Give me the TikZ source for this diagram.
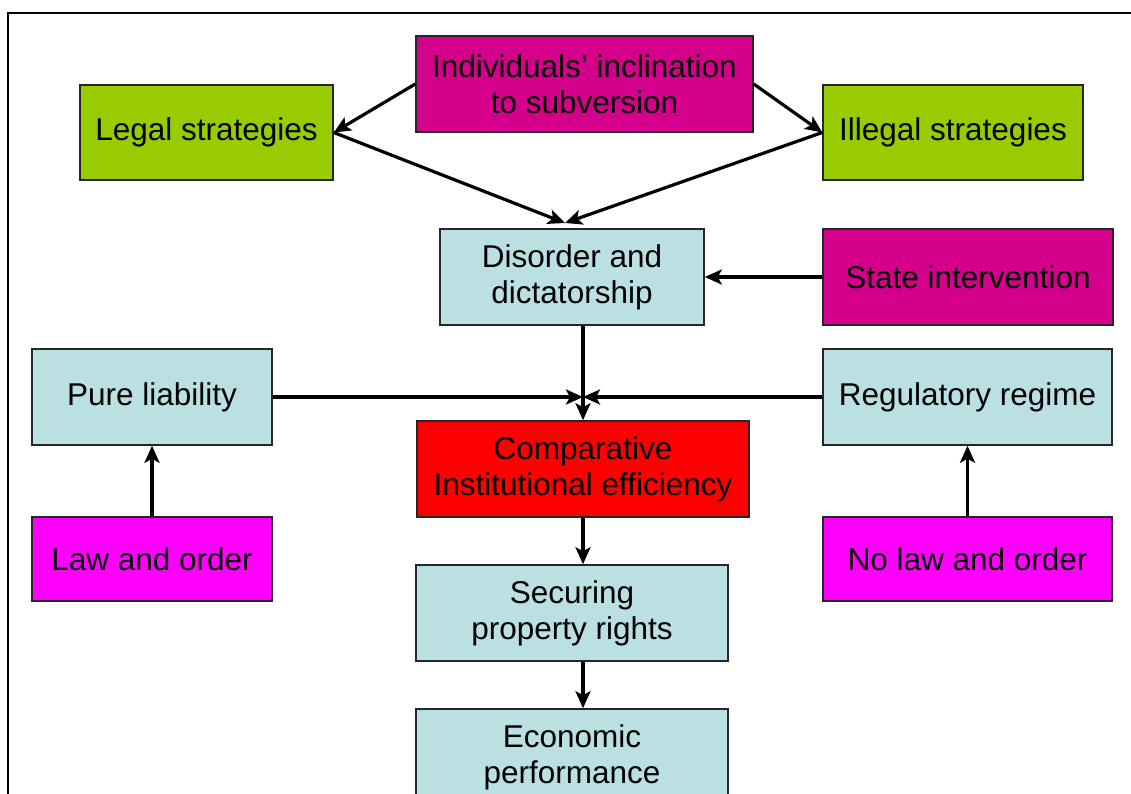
\documentclass[tikz,border=0pt]{standalone}
\usepackage{fontspec}
\setmainfont{Liberation Sans}
\usepackage{tikz}
\usetikzlibrary{arrows.meta}
\definecolor{lime}{HTML}{99CC00}
\definecolor{plum}{HTML}{D4008C}
\definecolor{pale}{HTML}{BBE0E3}
\definecolor{hot}{HTML}{FF0000}
\definecolor{pink}{HTML}{FF00FF}
\tikzset{
  box/.style={draw=black!85, line width=1.5pt, inner sep=0pt, align=center,
    font=\fontsize{31.5}{36}\selectfont},
  link/.style={draw=black, line width=3.2pt, -{Stealth[length=17pt,width=15pt,inset=4pt]}},
}

\begin{document}
\begin{tikzpicture}[x=1pt,y=-1pt]
  \useasboundingbox (0,0) rectangle (1131,793);
  \draw[line width=1.5pt] (8,800) -- (8,13) -- (1140,13);
  % boxes
  \node[box,fill=plum,minimum width=337pt,minimum height=96pt] (indiv) at (584.5,84) {Individuals’ inclination\\to subversion};
  \node[box,fill=lime,minimum width=253pt,minimum height=95pt] (legal) at (206.5,132.5) {Legal strategies};
  \node[box,fill=lime,minimum width=260pt,minimum height=95pt] (illegal) at (953,132.5) {Illegal strategies};
  \node[box,fill=pale,minimum width=264pt,minimum height=96pt] (disorder) at (572,277) {Disorder and\\dictatorship};
  \node[box,fill=plum,minimum width=290pt,minimum height=96pt] (state) at (968,277) {State intervention};
  \node[box,fill=pale,minimum width=240pt,minimum height=96pt] (pure) at (152,397) {Pure liability};
  \node[box,fill=pale,minimum width=289pt,minimum height=96pt] (regul) at (967.5,397) {Regulatory regime};
  \node[box,fill=hot,minimum width=332pt,minimum height=96pt] (comp) at (583,469) {Comparative\\Institutional efficiency};
  \node[box,fill=pink,minimum width=240pt,minimum height=84pt] (law) at (152,559) {Law and order};
  \node[box,fill=pink,minimum width=289pt,minimum height=84pt] (nolaw) at (967.5,559) {No law and order};
  \node[box,fill=pale,minimum width=312pt,minimum height=96pt] (secur) at (572,613) {Securing\\property rights};
  \node[box,fill=pale,minimum width=312pt,minimum height=96pt] (econ) at (572,757) {Economic\\performance};
  \coordinate (dtop) at (565,223);
  % arrows
  \draw[link] (indiv.west) -- (legal.east);
  \draw[link] (indiv.east) -- (illegal.west);
  \draw[link] (legal.east) -- (dtop);
  \draw[link] (illegal.west) -- (dtop);
  \draw[link] (state.west) -- (disorder.east);
  \draw[link] (disorder.south -| comp.north) -- (comp.north);
  \draw[link] (pure.east) -- (pure.east -| comp.north);
  \draw[link] (regul.west) -- (regul.west -| comp.north);
  \draw[link] (law.north) -- (pure.south);
  \draw[link] (nolaw.north) -- (regul.south);
  \draw[link] (comp.south) -- (comp.south |- secur.north);
  \draw[link] (comp.south |- secur.south) -- (comp.south |- econ.north);
\end{tikzpicture}
\end{document}
